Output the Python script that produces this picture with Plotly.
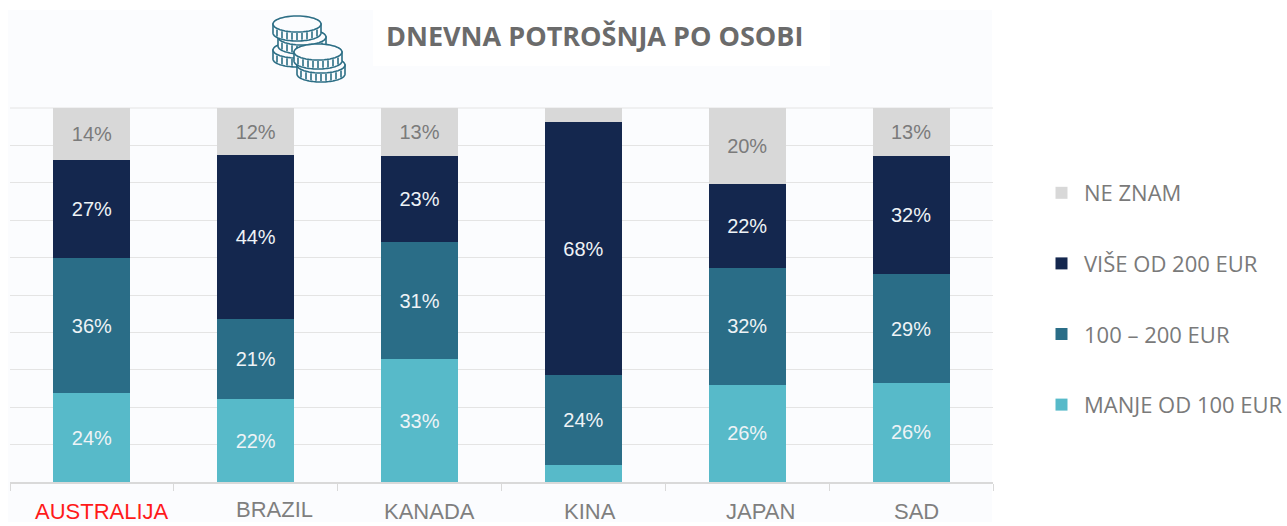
import math
import plotly.graph_objects as go

categories = ["AUSTRALIJA", "BRAZIL", "KANADA", "KINA", "JAPAN", "SAD"]
manje_100 = [23.8, 22.2, 32.9, 4.5, 26.0, 26.5]
od_100_200 = [36.1, 21.4, 31.3, 24.0, 31.3, 29.1]
vise_200 = [26.2, 43.8, 23.0, 67.7, 22.4, 31.6]
ne_znam = [13.9, 12.6, 12.8, 3.8, 20.3, 12.8]
labels_manje = ["24%", "22%", "33%", "", "26%", "26%"]
labels_srednje = ["36%", "21%", "31%", "24%", "32%", "29%"]
labels_vise = ["27%", "44%", "23%", "68%", "22%", "32%"]
labels_ne = ["14%", "12%", "13%", "", "20%", "13%"]
series_names = ["MANJE OD 100 EUR", "100 – 200 EUR", "VIŠE OD 200 EUR", "NE ZNAM"]
legend_ranks = [4, 3, 2, 1]
colors = ["#57bac9", "#2a6d87", "#14274e", "#d8d8d8"]
text_colors = ["#eef3f6", "#eef3f6", "#eef3f6", "#7b7b7b"]
label_offsets = [(10, 0, "#ff1a1a"), (19, 2, "#7f7f7f"), (10, 0, "#7f7f7f"),
                 (7, 0, "#7f7f7f"), (13, 0, "#7f7f7f"), (5, 0, "#7f7f7f")]

W, H = 1287, 526
L, R, T, B = 10, 993, 108, 482
BG = "#fbfcfe"
px = lambda v: (v - L) / (R - L)
py = lambda v: (B - v) / (B - T)

fig = go.Figure()
for name, vals, txt, col, tc, rank in zip(series_names, [manje_100, od_100_200, vise_200, ne_znam],
                                          [labels_manje, labels_srednje, labels_vise, labels_ne],
                                          colors, text_colors, legend_ranks):
    fig.add_bar(x=categories, y=vals, name=name, legendgroup=name, legendrank=rank,
                marker=dict(color=col, line_width=0),
                text=txt, textposition="inside", insidetextanchor="middle", textangle=0,
                insidetextfont=dict(family="Liberation Sans", size=20, color=tc),
                cliponaxis=False, hoverinfo="skip")

shapes = [
    dict(type="rect", xref="paper", yref="paper", x0=px(8), x1=px(992), y0=py(522), y1=py(10),
         fillcolor=BG, line_width=0, layer="below"),
    dict(type="rect", xref="paper", yref="paper", x0=px(373), x1=px(830), y0=py(66), y1=py(10),
         fillcolor="#ffffff", line_width=0, layer="below"),
    dict(type="line", xref="paper", yref="paper", x0=0, x1=1, y0=1, y1=1,
         line=dict(color="#e4e4e4", width=1), layer="below"),
]


def coin(cx, cy, rx=24, ry=8, band=9):
    """Coin icon: a filled band plus its top ellipse, with short hatch marks."""
    col = "#2c6e85"
    n = 48
    top = [(cx + rx * math.cos(2 * math.pi * i / n), cy + ry * math.sin(2 * math.pi * i / n)) for i in range(n + 1)]
    low = [(cx + rx * math.cos(math.pi * i / n), cy + band + ry * math.sin(math.pi * i / n)) for i in range(n + 1)]
    body = [(cx + rx, cy)] + low + [(cx - rx, cy)]
    to_path = lambda pts: "M" + "L".join(f"{px(a):.5f},{py(b):.5f}" for a, b in pts) + "Z"
    out = [dict(type="path", xref="paper", yref="paper", path=to_path(body),
                fillcolor=BG, line=dict(color=col, width=1.6))]
    for k in range(-4, 5):
        a = cx + k * rx / 4.8
        b = cy + ry * math.sqrt(max(0, 1 - (k / 4.8) ** 2))
        out.append(dict(type="line", xref="paper", yref="paper", x0=px(a), x1=px(a),
                        y0=py(b + 1), y1=py(b + band - 1), line=dict(color=col, width=1.6)))
    out.append(dict(type="path", xref="paper", yref="paper", path=to_path(top),
                    fillcolor=BG, line=dict(color=col, width=1.6)))
    return out


for c in [(297, 50), (302, 37), (297, 24), (321, 65), (318, 52)]:
    shapes += coin(*c)

annotations = [
    dict(x=cat, y=0, xref="x", yref="paper", text=cat, showarrow=False, xanchor="center", yanchor="middle",
         xshift=dx, yshift=-29 + dy, font=dict(family="Liberation Sans Narrow, Liberation Sans", size=22, color=c))
    for cat, (dx, dy, c) in zip(categories, label_offsets)
]

fig.update_layout(
    width=W, height=H, autosize=False, barmode="stack", bargap=0.53,
    margin=dict(l=L, r=W - R, t=T, b=H - B),
    paper_bgcolor="#ffffff", plot_bgcolor="rgba(0,0,0,0)",
    title=dict(text="<b>DNEVNA POTROŠNJA PO OSOBI</b>", x=px(386), xanchor="left", xref="paper",
               y=1 - 37 / H, yanchor="middle",
               font=dict(family="Open Sans", size=27, color="#6b6b6b")),
    xaxis=dict(type="category", categoryorder="array", categoryarray=categories, range=[-0.5, 5.5],
               showticklabels=False, ticks="outside", tickson="boundaries", ticklen=7,
               tickcolor="#d9d9d9", tickwidth=1, showline=True, linecolor="#d9d9d9", linewidth=2,
               showgrid=False, zeroline=False),
    yaxis=dict(range=[0, 100.05], dtick=10, showticklabels=False, showgrid=True, gridcolor="#e4e4e4",
               gridwidth=1, zeroline=False, ticks=""),
    legend=dict(x=1039 / W, xref="container", y=1 - 172 / H, yref="container", yanchor="top", xanchor="left",
                traceorder="grouped", tracegroupgap=39, itemwidth=35, bgcolor="rgba(0,0,0,0)",
                font=dict(family="Open Sans", size=22, color="#7a7a7a"), itemclick=False, itemdoubleclick=False),
    shapes=shapes, annotations=annotations,
)
fig.write_html("out.html", post_script="document.body.style.margin='0';", config={"displayModeBar": False})
